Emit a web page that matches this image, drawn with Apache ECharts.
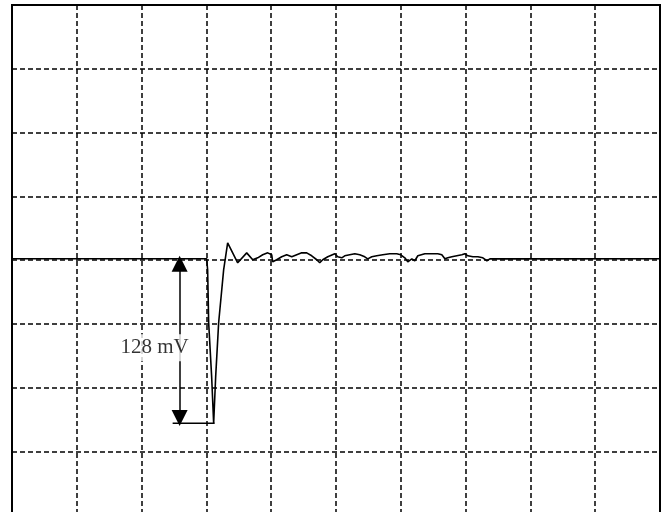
<!DOCTYPE html>
<html>
<head>
<meta charset="utf-8">
<script src="https://cdn.jsdelivr.net/npm/echarts@6/dist/echarts.min.js"></script>
<style>html,body{margin:0;padding:0;background:#fff}#c{width:666px;height:512px}</style>
</head>
<body>
<div id="c"></div>
<script>
// time in divisions, voltage in mV (50 mV/div)
var timeDiv = [0, 3.004, 3.019, 3.035, 3.081, 3.112, 3.143, 3.189, 3.266, 3.328, 3.483, 3.622, 3.715, 3.792, 3.869, 3.946, 4.008, 4.023, 4.085, 4.162, 4.239, 4.317, 4.394, 4.471, 4.548, 4.625, 4.703, 4.749, 4.795, 4.873, 4.981, 5.027, 5.089, 5.135, 5.212, 5.290, 5.367, 5.444, 5.490, 5.552, 5.629, 5.722, 5.830, 5.938, 6.000, 6.062, 6.108, 6.170, 6.216, 6.263, 6.371, 6.479, 6.571, 6.633, 6.680, 6.726, 6.788, 6.865, 6.942, 6.988, 7.035, 7.112, 7.189, 7.266, 7.328, 7.375, 7.606, 10];
var voltageMv = [1, 1, -7.7, -49.2, -91.5, -128, -91.5, -49.2, -7.7, 13.5, -2.2, 5.6, 0.2, 1.7, 4.1, 5.6, 4.1, -1.4, 0.2, 2.5, 4.1, 2.5, 4.1, 5.6, 5.6, 3.3, 0.2, -2.2, 0.2, 2.5, 4.9, 2.5, 1.7, 3.3, 4.1, 4.9, 4.1, 2.5, 0.9, 2.5, 3.3, 4.1, 4.9, 4.9, 4.1, 1.7, -1.4, 0.9, -0.6, 3.3, 4.9, 4.9, 4.9, 4.1, 0.9, 1.7, 2.5, 3.3, 4.1, 4.9, 3.3, 2.5, 2.5, 1.7, -0.6, 0.9, 0.9, 1];
var markerLineX = [2.479, 3.127];
var amplitudeMv = -128;
var arrowX = 2.587;
var arrowTop = -3;
var arrowBottom = -124;
var labelText = '128 mV';
var labelPos = [2.201, -68.8];

var trace = timeDiv.map(function (t, i) { return [t, voltageMv[i]]; });
var marker = markerLineX.map(function (x) { return [x, amplitudeMv]; });

var chart = echarts.init(document.getElementById('c'), null, {renderer: 'canvas'});
chart.setOption({
  animation: false,
  backgroundColor: '#fff',
  grid: {left: 12, right: 6, top: 5, height: 510, outerBoundsMode: 'none', containLabel: false,
         show: true, borderColor: '#000', borderWidth: 2, backgroundColor: 'transparent'},
  xAxis: {
    type: 'value', min: 0, max: 10, interval: 1,
    axisLine: {show: false}, axisTick: {show: false}, axisLabel: {show: false},
    splitLine: {show: true, lineStyle: {color: '#000', width: 1.5, type: [5, 3]}}
  },
  yAxis: {
    type: 'value', min: -200, max: 200, interval: 50,
    axisLine: {show: false}, axisTick: {show: false}, axisLabel: {show: false},
    splitLine: {show: true, lineStyle: {color: '#000', width: 1.5, type: [5, 3]}}
  },
  series: [
    {
      type: 'line', data: trace, showSymbol: false, symbol: 'none',
      lineStyle: {color: '#000', width: 1.6}, z: 3
    },
    {
      type: 'line', data: marker, showSymbol: false, symbol: 'none',
      lineStyle: {color: '#000', width: 1.5}, z: 3,
      markLine: {
        silent: true, animation: false,
        symbol: ['triangle', 'triangle'], symbolSize: 16,
        lineStyle: {color: '#000', width: 1.5, type: 'solid'},
        itemStyle: {color: '#000'},
        label: {show: false},
        data: [[{coord: [arrowX, arrowTop]}, {coord: [arrowX, arrowBottom]}]]
      }
    },
    {
      type: 'scatter', data: [labelPos], symbolSize: 0, z: 5,
      label: {
        show: true, position: 'inside', formatter: labelText,
        fontFamily: 'Liberation Serif', fontSize: 21, color: '#000',
        backgroundColor: '#fff', padding: [3, 1]
      }
    }
  ]
});
</script>
</body>
</html>
